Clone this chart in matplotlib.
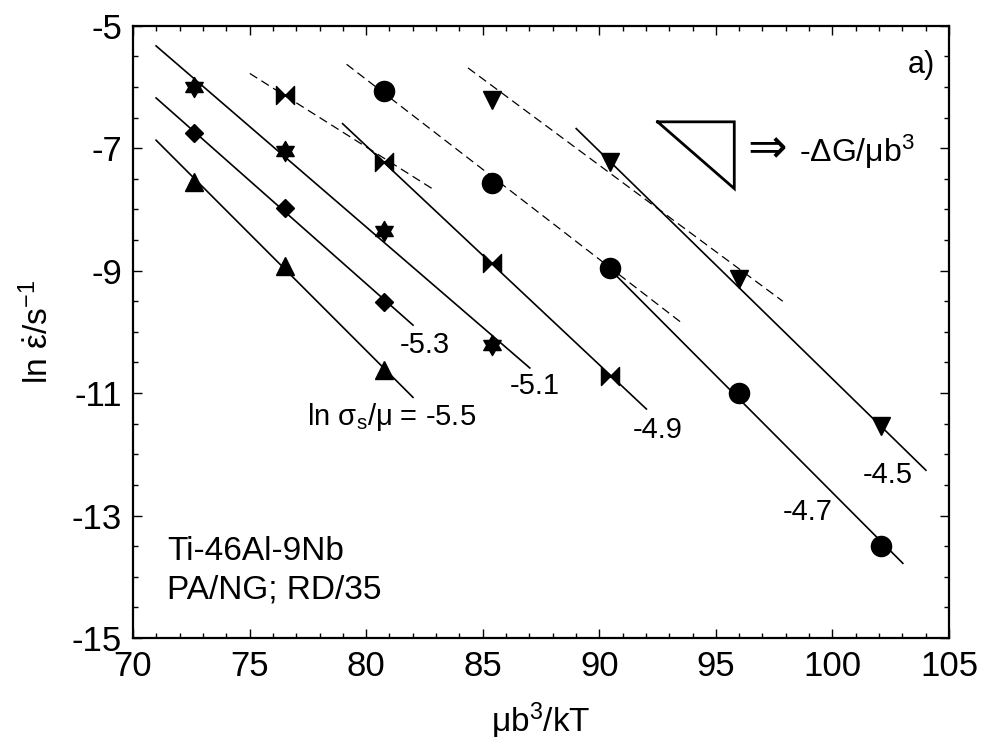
import matplotlib
matplotlib.use("Agg")
import matplotlib.pyplot as plt
from matplotlib.path import Path
import numpy as np

plt.rcParams['font.family'] = ['Liberation Sans', 'DejaVu Sans']
plt.rcParams['mathtext.fontset'] = 'custom'
plt.rcParams['mathtext.rm'] = 'Liberation Sans'
plt.rcParams['mathtext.it'] = 'Liberation Sans:italic'
plt.rcParams['mathtext.bf'] = 'Liberation Sans:bold'
plt.rcParams['mathtext.default'] = 'regular'
plt.rcParams['axes.unicode_minus'] = False

# ---- data ----
tri_up_x = [72.6, 76.5, 80.75]
tri_up_y = [-7.55, -8.93, -10.63]          # ln sigma/mu = -5.5
diamond_x = [72.6, 76.5, 80.75]
diamond_y = [-6.76, -7.97, -9.52]          # -5.3
star_x = [72.6, 76.5, 80.75, 85.4]
star_y = [-6.00, -7.05, -8.35, -10.21]     # -5.1
bowtie_x = [76.5, 80.75, 85.4, 90.45]
bowtie_y = [-6.13, -7.22, -8.88, -10.72]   # -4.9
circle_x = [80.75, 85.4, 90.45, 96.0, 102.1]
circle_y = [-6.07, -7.57, -8.96, -11.00, -13.49]  # -4.7
tri_dn_x = [85.4, 90.45, 96.0, 102.1]
tri_dn_y = [-6.21, -7.22, -9.14, -11.54]   # -4.5

# solid fit lines (start/end)
fit_x0 = [70.99, 70.99, 70.99, 78.99, 90.2, 89.01]
fit_y0 = [-6.87, -6.18, -5.33, -6.60, -8.88, -6.68]
fit_x1 = [82.01, 82.01, 87.02, 92.02, 103.02, 104.01]
fit_y1 = [-11.07, -9.89, -10.59, -11.26, -13.78, -12.26]

# dashed lines (start/end)
dash_x0 = [75.01, 79.16, 84.37]
dash_y0 = [-5.78, -5.63, -5.69]
dash_x1 = [82.87, 93.59, 97.87]
dash_y1 = [-7.67, -9.87, -9.50]

line_labels = ['ln σ$_{s}$/μ = -5.5', '-5.3', '-5.1', '-4.9', '-4.7', '-4.5']
label_x = [77.46, 81.44, 86.16, 91.43, 97.86, 101.29]
label_y = [-11.39, -10.22, -10.89, -11.61, -12.94, -12.34]

# slope triangle
slope_tri_x = [92.5, 95.79, 95.79, 92.5]
slope_tri_y = [-6.57, -6.57, -7.66, -6.57]

# ---- markers ----
hexagram = Path.unit_regular_star(6, 0.5774)
bow_verts = [(-1, 1), (0, 0), (-1, -1), (-1, 1), (1, 1), (0, 0), (1, -1), (1, 1)]
bow_codes = [Path.MOVETO, Path.LINETO, Path.LINETO, Path.CLOSEPOLY,
             Path.MOVETO, Path.LINETO, Path.LINETO, Path.CLOSEPOLY]
bowtie = Path(bow_verts, bow_codes)

fig = plt.figure(figsize=(9.85, 7.51), dpi=100)
ax = fig.add_axes([133/985, 113/751, 816/985, 612.3/751])

for x0, y0, x1, y1 in zip(fit_x0, fit_y0, fit_x1, fit_y1):
    ax.plot([x0, x1], [y0, y1], color='black', lw=1.2, zorder=2)
for x0, y0, x1, y1 in zip(dash_x0, dash_y0, dash_x1, dash_y1):
    ax.plot([x0, x1], [y0, y1], color='black', lw=0.9, ls=(0, (7, 4)), zorder=2)

ax.plot(tri_up_x, tri_up_y, ls='none', marker='^', ms=12.5, color='black', zorder=3)
ax.plot(diamond_x, diamond_y, ls='none', marker='D', ms=9.5, color='black', zorder=3)
ax.plot(star_x, star_y, ls='none', marker=hexagram, ms=14.5, color='black', zorder=3)
ax.plot(bowtie_x, bowtie_y, ls='none', marker=bowtie, ms=13, color='black', zorder=3)
ax.plot(circle_x, circle_y, ls='none', marker='o', ms=14.5, color='black', zorder=3)
ax.plot(tri_dn_x, tri_dn_y, ls='none', marker='v', ms=12.5, color='black', zorder=3)

for t, lx, ly in zip(line_labels, label_x, label_y):
    ax.text(lx, ly, t, fontsize=21, ha='left', va='center')

ax.plot(slope_tri_x, slope_tri_y, color='black', lw=2.0, solid_joinstyle='miter')
ax.text(96.35, -7.02, '⇒', fontsize=34, ha='left', va='center', family='DejaVu Sans')
ax.text(98.55, -7.06, '-ΔG/μb$^{3}$', fontsize=23, ha='left', va='center')
ax.text(104.38, -5.64, 'a)', fontsize=22, ha='right', va='center')

ax.text(71.46, -13.73, 'Ti-46Al-9Nb', fontsize=24, ha='left', va='baseline')
ax.text(71.46, -14.35, 'PA/NG; RD/35', fontsize=24, ha='left', va='baseline')

ax.set_xlim(70, 105)
ax.set_ylim(-15, -5)
ax.set_xticks(np.arange(70, 106, 5))
ax.set_xticks(np.arange(70, 106, 1), minor=True)
ax.set_yticks(np.arange(-15, -4, 2))
ax.set_yticks(np.arange(-15, -4.9, 0.5), minor=True)
ax.tick_params(which='both', direction='in', top=True, right=True, width=1.0)
ax.tick_params(which='major', length=6.5, labelsize=25)
ax.tick_params(axis='y', which='major', pad=8)
ax.tick_params(axis='x', which='major', pad=9)
ax.tick_params(which='minor', length=3.3)
for s in ax.spines.values():
    s.set_linewidth(1.6)

ax.set_xlabel('μb$^{3}$/kT', fontsize=24, labelpad=12)
ax.set_ylabel(r'ln $\dot{\varepsilon}$/s$^{-1}$', fontsize=24, labelpad=12)

fig.savefig('out.png', dpi=100)
